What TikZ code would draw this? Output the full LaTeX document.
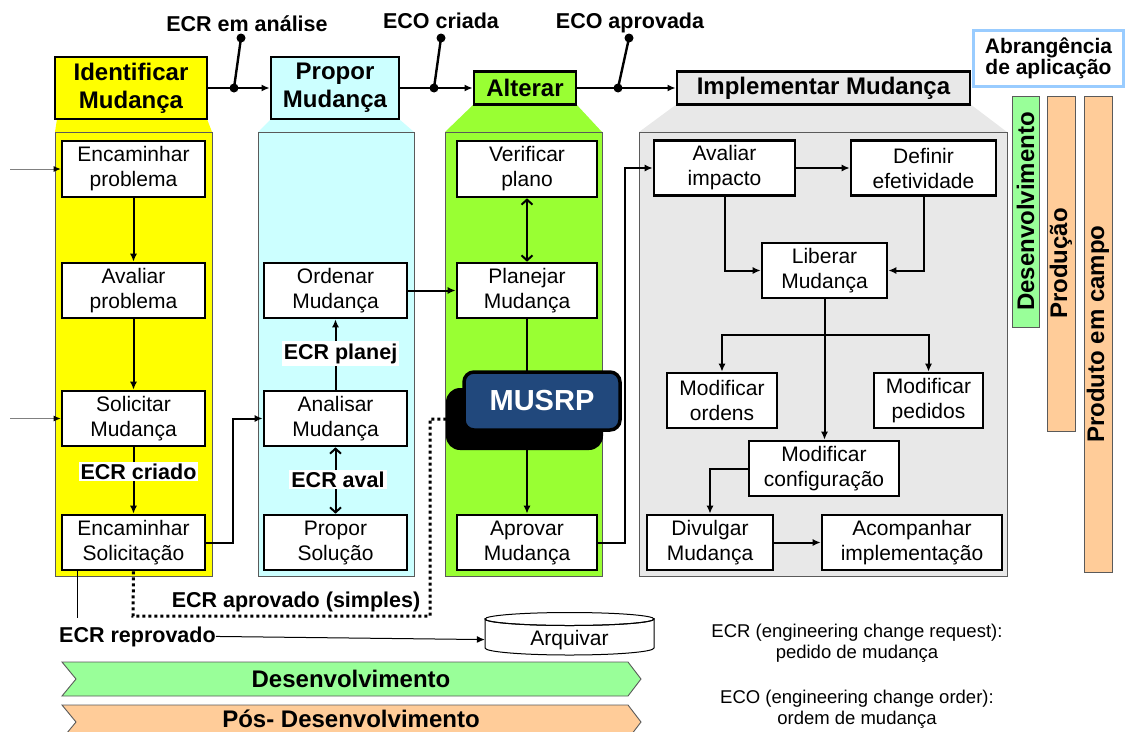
\documentclass[tikz,border=0pt]{standalone}
\usepackage{fontspec}
\setmainfont{Liberation Sans}
\usetikzlibrary{arrows.meta,calc}

\definecolor{cYellow}{HTML}{FFFF00}
\definecolor{cCyan}{HTML}{CCFFFF}
\definecolor{cLime}{HTML}{99FF33}
\definecolor{cGrey}{HTML}{E8E8E8}
\definecolor{cMint}{HTML}{99FF99}
\definecolor{cPeach}{HTML}{FFCC99}
\definecolor{cNavy}{HTML}{21487C}
\definecolor{cSky}{HTML}{99CCFF}
\definecolor{cEdge}{HTML}{5A5A5A}

\begin{document}
\begin{tikzpicture}[x=1pt,y=-1pt,
  task/.style={draw=black, fill=white, line width=2.6pt, inner sep=0pt, align=center,
               font=\fontsize{21}{25}\selectfont},
  head/.style={draw=black, line width=2.8pt, inner sep=0pt, align=center,
               font=\bfseries\fontsize{24}{28}\selectfont},
  tag/.style={inner sep=0pt, font=\bfseries\fontsize{21.5}{24}\selectfont},
  tagw/.style={tag, fill=white, inner sep=2pt},
  lane/.style={draw=cEdge, line width=0.8pt},
  flow/.style={line width=2pt, -{Latex[length=8pt,width=7pt]}},
  twoway/.style={line width=2pt, {Straight Barb[length=5pt,width=11pt]}-{Straight Barb[length=5pt,width=11pt]}},
  feed/.style={draw=gray, line width=0.9pt, -{Latex[length=7pt,width=6pt,black]}},
  slim/.style={line width=1pt},
  pin/.style={circle, fill=black, inner sep=0pt, minimum size=9pt},
  lever/.style={line width=2.4pt},
  dotline/.style={line width=3pt, dash pattern=on 3pt off 3pt},
  bar/.style={draw=cEdge, line width=0.9pt, rotate=90, inner sep=0pt,
              font=\bfseries\fontsize{24}{26}\selectfont},
  note/.style={align=center, font=\fontsize{18.5}{21}\selectfont},
  phase/.style={font=\bfseries\fontsize{24}{26}\selectfont},
]
\useasboundingbox (0,0) rectangle (1126,731);

% ---------- swimlane panels ----------
\fill[cYellow] (57,119) -- (207,119) -- (212,132) -- (55,132) -- cycle;
\filldraw[fill=cYellow, lane] (55,132) rectangle (212,576);
\fill[cCyan] (271,119) -- (399,119) -- (414,132) -- (258,132) -- cycle;
\filldraw[fill=cCyan, lane] (258,132) rectangle (414,576);
\fill[cLime] (474,104) -- (576,104) -- (602,132) -- (445,132) -- cycle;
\filldraw[fill=cLime, lane] (445,132) rectangle (602,576);
\fill[cGrey] (677,104) -- (970,104) -- (1007,132) -- (639,132) -- cycle;
\filldraw[fill=cGrey, lane] (639,132) rectangle (1007,576);

% ---------- phase headers ----------
\node[head, fill=cYellow, minimum width=152, minimum height=62] (hIdent) at (131,88) {Identificar\\Mudança};
\node[head, fill=cCyan, minimum width=128, minimum height=62] (hProp) at (335,88) {Propor\\Mudança};
\node[head, fill=cLime, minimum width=102, minimum height=33] (hAlt) at (525,88) {Alterar};
\node[head, fill=cGrey, minimum width=293, minimum height=33] (hImpl) at (823.5,88) {Implementar Mudança};
\node[draw=cSky, fill=white, line width=3.5pt, inner sep=0pt, align=center,
      minimum width=150, minimum height=56, font=\bfseries\fontsize{21}{21}\selectfont]
      (abr) at (1048.5,58.5) {Abrangência\\de aplicação};

% ---------- state switches on the main line ----------
\draw[flow] (hIdent.east) -- (hProp.west);
\draw[flow] (hProp.east) -- (hAlt.west);
\draw[flow] (hAlt.east) -- (hImpl.west);
\node[pin] (s1a) at (234,88) {};  \node[pin] (s1b) at (241,38) {};
\node[pin] (s2a) at (434,88) {};  \node[pin] (s2b) at (441,38) {};
\node[pin] (s3a) at (618,88) {};  \node[pin] (s3b) at (629,38) {};
\draw[lever] (s1a.center) -- (s1b.center);
\draw[lever] (s2a.center) -- (s2b.center);
\draw[lever] (s3a.center) -- (s3b.center);
\node[tag, anchor=base] (t1) at (247,31) {ECR em análise};
\node[tag, anchor=base] (t2) at (441,28) {ECO criada};
\node[tag, anchor=base] (t3) at (630,28) {ECO aprovada};

% ---------- Identificar Mudança ----------
\node[task, minimum width=143, minimum height=56] (encprob) at (133.5,169) {Encaminhar\\problema};
\node[task, minimum width=143, minimum height=55] (avprob) at (133.5,290.5) {Avaliar\\problema};
\node[task, minimum width=143, minimum height=55] (solmud) at (133.5,418.5) {Solicitar\\Mudança};
\node[task, minimum width=143, minimum height=55] (encsol) at (133.5,542.5) {Encaminhar\\Solicitação};

% ---------- Propor Mudança ----------
\node[task, minimum width=143, minimum height=55] (ordmud) at (335.5,290.5) {Ordenar\\Mudança};
\node[task, minimum width=143, minimum height=55] (anamud) at (335.5,418.5) {Analisar\\Mudança};
\node[task, minimum width=143, minimum height=55] (propsol) at (335.5,542.5) {Propor\\Solução};

% ---------- Alterar ----------
\node[task, minimum width=140, minimum height=56] (verpl) at (527,169) {Verificar\\plano};
\node[task, minimum width=140, minimum height=55] (planmud) at (527,290.5) {Planejar\\Mudança};
\node[task, minimum width=140, minimum height=55] (aprmud) at (527,542.5) {Aprovar\\Mudança};

% ---------- Implementar Mudança ----------
\node[task, minimum width=141, minimum height=55] (avimp) at (724.5,168) {Avaliar\\impacto};
\node[task, minimum width=145, minimum height=55] (defef) at (923.5,168) {Definir\\efetividade};
\node[task, minimum width=125, minimum height=55] (libmud) at (824.5,270.5) {Liberar\\Mudança};
\node[task, minimum width=110, minimum height=55] (modord) at (722,400.5) {Modificar\\ordens};
\node[task, minimum width=109, minimum height=55] (modped) at (928.5,400.5) {Modificar\\pedidos};
\node[task, minimum width=150, minimum height=55] (modconf) at (824,468.5) {Modificar\\configuração};
\node[task, minimum width=126, minimum height=55] (divmud) at (710,542.5) {Divulgar\\Mudança};
\node[task, minimum width=180, minimum height=55] (acomp) at (912,542.5) {Acompanhar\\implementação};

% ---------- inputs from the left ----------
\coordinate (in1) at (10,169);
\coordinate (in2) at (10,418.5);
\draw[feed] (in1) -- (encprob.west);
\draw[feed] (in2) -- (solmud.west);

% ---------- flows ----------
\draw[flow] (encprob) -- (avprob);
\draw[flow] (avprob) -- (solmud);
\draw[flow] (solmud) -- (encsol);
\node[tagw] (lcriado) at (138.5,471.5) {ECR criado};

\draw[flow] (encsol.east) -- (233,542.5) |- (anamud.west);
\draw[flow] (anamud) -- (ordmud);
\node[tagw] (lplanej) at (340.5,353.5) {ECR planej};
\draw[twoway] (anamud) -- (propsol);
\node[tagw] (laval) at (338,479.5) {ECR aval};

\draw[flow] (ordmud.east) -- (planmud.west);
\draw[twoway] (verpl) -- (planmud);
\draw[flow] (planmud) -- (aprmud);

\draw[flow] (aprmud.east) -- (625,542.5) |- (avimp.west);
\draw[flow] (avimp) -- (defef);
\draw[flow] (avimp.south) |- (libmud.west);
\draw[flow] (defef.south) |- (libmud.east);
\coordinate (fork) at (824.5,335);
\draw[line width=2pt] (libmud.south) -- (fork);
\draw[flow] (fork) -| (modord.north);
\draw[flow] (fork) -| (modped.north);
\draw[flow] (fork) -- (modconf.north -| fork);
\draw[flow] (modconf.west) -| (divmud.north);
\draw[flow] (divmud) -- (acomp);

% ---------- MUSRP system ----------
\node[fill=black, rounded corners=14pt, minimum width=157, minimum height=62, inner sep=0pt] (mshadow) at (524.5,419) {};
\node[fill=cNavy, draw=black, line width=3.5pt, rounded corners=10pt, minimum width=156, minimum height=58,
      inner sep=0pt, text=white, font=\bfseries\fontsize{29}{30}\selectfont] (musrp) at (542,401) {MUSRP};

% ---------- simple approval path ----------
\draw[dotline] (encsol.south) -- (133,616) -- (430,616) -- (430,419) -- (mshadow.west);
\node[tag, anchor=base] (lsimples) at (296,607) {ECR aprovado (simples)};

% ---------- rejection to archive ----------
\path[draw, slim, fill=white] (485,619) -- (485,648) arc[start angle=180, end angle=0, x radius=84.5, y radius=7]
  -- (654,619) arc[start angle=0, end angle=180, x radius=84.5, y radius=6.5] -- cycle;
\draw[slim] (569.5,619) ellipse[x radius=84.5, y radius=6.5];
\node[inner sep=0pt, minimum width=169, font=\fontsize{21}{25}\selectfont, anchor=base] (arq) at (569.5,645) {Arquivar};
\node[tag, anchor=base] (lrepr) at (137.5,642) {ECR reprovado};
\coordinate (rtop) at (77,618);
\draw[slim] (encsol.south -| rtop) -- (rtop);
\draw[slim, -{Latex[length=8pt,width=7pt]}] (lrepr.east) -- (arq.west);

% ---------- life-cycle phases ----------
\filldraw[fill=cMint, draw=cEdge, line width=0.9pt] (62,662) -- (628,662) -- (641,679) -- (628,696) -- (62,696) -- (76,679) -- cycle;
\node[phase] (pdev) at (351,679) {Desenvolvimento};
\filldraw[fill=cPeach, draw=cEdge, line width=0.9pt] (62,705) -- (628,705) -- (641,722) -- (628,739) -- (62,739) -- (76,722) -- cycle;
\node[phase] (ppos) at (351,719) {Pós- Desenvolvimento};

% ---------- scope bars ----------
\node[bar, fill=cMint, minimum width=231, minimum height=27] (bdev) at (1025.5,211.5) {Desenvolvimento};
\node[bar, fill=cPeach, minimum width=335, minimum height=28] (bprod) at (1061,263.5) {Produção};
\node[bar, fill=cPeach, minimum width=476, minimum height=28] (bcampo) at (1098,334) {Produto em campo};

% ---------- glossary ----------
\node[note] (gecr) at (857,643) {ECR (engineering change request):\\pedido de mudança};
\node[note] (geco) at (857,709) {ECO (engineering change order):\\ordem de mudança};
\end{tikzpicture}
\end{document}
